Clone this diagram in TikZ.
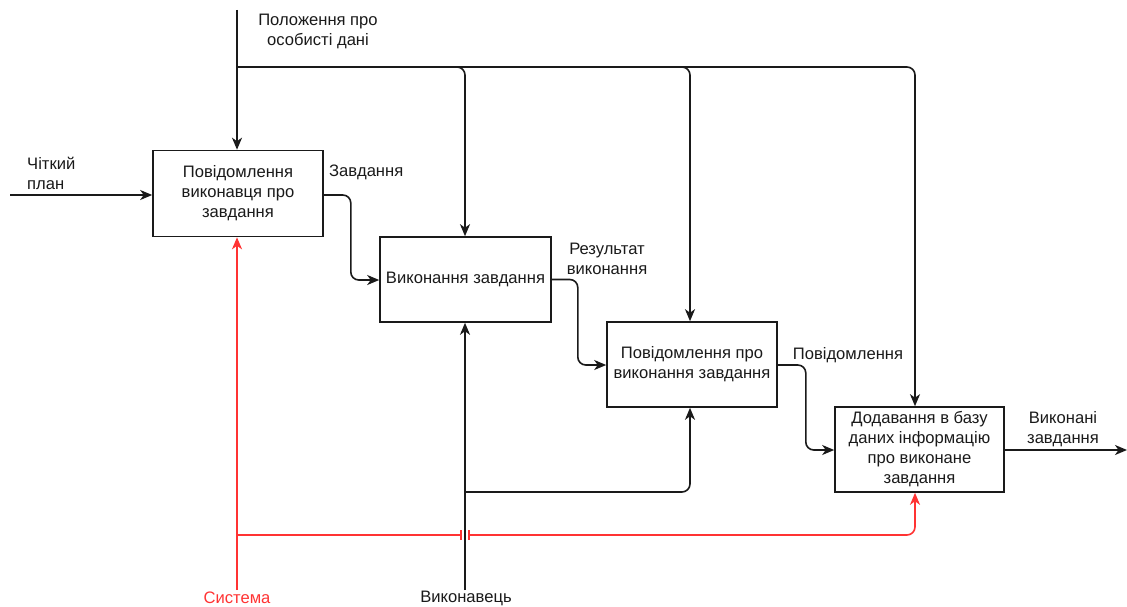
\documentclass[tikz,border=0pt]{standalone}
\usepackage{fontspec}
\setmainfont{Liberation Sans}
\usetikzlibrary{arrows.meta,calc}
\definecolor{sysred}{HTML}{FF3333}
\definecolor{ink}{HTML}{1A1A1A}
\begin{document}
\begin{tikzpicture}[x=1pt,y=-1pt,
  every node/.style={font=\fontsize{16.6}{20}\selectfont, text=ink, inner sep=0pt},
  fbox/.style={draw=ink, line width=1.6pt, fill=white, align=center, minimum width=170pt, minimum height=86pt},
  lbl/.style={align=center},
  flow/.style={draw=ink, line width=1.6pt, rounded corners=8pt, -{Stealth[length=12pt,width=10pt,inset=3.5pt]}},
  sysflow/.style={draw=sysred, line width=1.6pt, rounded corners=8pt, -{Stealth[length=12pt,width=10pt,inset=3.5pt]}},
  sysline/.style={draw=sysred, line width=1.6pt}]
\useasboundingbox (0,0) rectangle (1127,607);

% function boxes
\node[fbox] (b1) at (238,193.5) {Повідомлення\\виконавця про\\завдання};
\node[fbox, minimum width=171pt, minimum height=85pt] (b2) at (465.5,279.5) {Виконання завдання};
\node[fbox, minimum height=85pt] (b3) at (692,364.5) {Повідомлення про\\виконання завдання};
\node[fbox, minimum width=169pt, minimum height=85pt] (b4) at (919.5,449.5) {Додавання в базу\\даних інформацію\\про виконане\\завдання};

% free ends of the connectors
\coordinate (ctrl) at (237,10);
\coordinate (ctrlsplit) at (237,67);
\coordinate (inp) at (10,195);
\coordinate (outp) at (1127,450);
\coordinate (exec) at (465,590);
\coordinate (execsplit) at (465,492);
\coordinate (sys) at (237,590);
\coordinate (syssplit) at (237,535);
\coordinate (jumpL) at (461,535);
\coordinate (jumpR) at (469,535);

% control: personal data regulation
\draw[flow] (ctrl) -- (b1.north -| ctrl);
\draw[flow] (ctrlsplit) -| ([xshift=-0.5pt]b2.north);
\draw[flow] (ctrlsplit) -| ([xshift=-2pt]b3.north);
\draw[flow] (ctrlsplit) -| ([xshift=-4.5pt]b4.north);

% input and output
\draw[flow] (inp) -- (b1.west |- inp);
\draw[flow] (b4.east |- outp) -- (outp);

% chain between the boxes
\draw[flow] (b1.east |- 0,195) -- ++(27,0) |- (b2.west |- 0,280);
\draw[flow] (b2.east) -- ++(26,0) |- (b3.west |- 0,365);
\draw[flow] (b3.east |- 0,365) -- ++(28,0) |- (b4.west |- 0,450);

% mechanism: executor
\draw[flow] (exec) -- (b2.south -| exec);
\draw[flow] (execsplit) -| ([xshift=-2pt]b3.south);

% mechanism: system
\draw[sysflow] (sys) -- (b1.south -| sys);
\draw[sysline] (syssplit) -- (jumpL);
\draw[sysline] ([yshift=-5pt]jumpL) -- ([yshift=5pt]jumpL);
\draw[sysline] ([yshift=-5pt]jumpR) -- ([yshift=5pt]jumpR);
\draw[sysflow] (jumpR) -| ([xshift=-4.5pt]b4.south);

% labels
\node[lbl] (tctrl) at (318,31) {Положення про\\особисті дані};
\node[align=left, anchor=west] (tin) at (27,173) {Чіткий\\план};
\node[anchor=west] (t12) at (329,172) {Завдання};
\node[lbl] (t23) at (607,258.5) {Результат\\виконання};
\node[lbl] (t34) at (848,355) {Повідомлення};
\node[lbl] (tout) at (1063,429) {Виконані\\завдання};
\node[lbl, text=sysred] (tsys) at (237,598) {Система};
\node[lbl] (texec) at (466,598) {Виконавець};
\end{tikzpicture}
\end{document}
